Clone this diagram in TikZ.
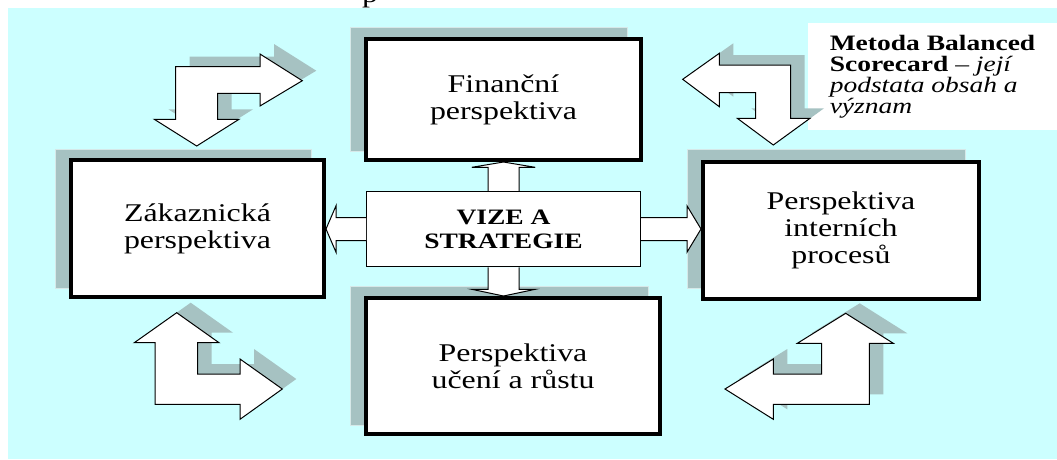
\documentclass[tikz,border=0pt]{standalone}
\usepackage{fontspec}
\setmainfont{Liberation Serif}[FakeStretch=1.25]
\usetikzlibrary{calc}
\definecolor{bgcyan}{RGB}{204,255,255}
\definecolor{shade}{RGB}{166,194,194}
\definecolor{shadeedge}{RGB}{214,232,232}
\tikzset{
  persp/.style={draw=black, line width=4pt, fill=white, align=center, inner sep=0pt,
    font=\fontsize{25.5}{27}\selectfont},
  vizebox/.style={draw=black, line width=1pt, fill=white, align=center, inner sep=0pt,
    font=\fontsize{22}{24}\selectfont\bfseries},
  boxshadow/.style={fill=shade, draw=shadeedge, line width=1pt},
  barrow/.style={draw=black, line width=1pt, fill=white, line join=miter},
  arrowshadow/.style={fill=shade, shift={(14,-10)}},
  % bent double arrows in the four corners
  cornerTL/.style={insert path={(302.3,80.7) -- (260,106) -- (260,93.3) -- (217.7,93.3)
    -- (217.7,119.3) -- (239,119.3) -- (196.7,146) -- (154.3,119.3) -- (175.7,119.3)
    -- (175.7,66.7) -- (260,66.7) -- (260,54) -- cycle}},
  cornerTR/.style={insert path={(682.7,79.3) -- (719.3,53.3) -- (719.3,65) -- (790.7,65)
    -- (790.7,118.3) -- (810,118.3) -- (773.3,145) -- (737.3,118.3) -- (755.7,118.3)
    -- (755.7,92.7) -- (719.3,92.7) -- (719.3,106.7) -- cycle}},
  cornerBL/.style={insert path={(176.7,312.7) -- (219,342.7) -- (197.7,342.7) -- (197.7,374)
    -- (240,374) -- (240,359) -- (282.3,389) -- (240,419.3) -- (240,404.3) -- (155,404.3)
    -- (155,342.7) -- (134.3,342.7) -- cycle}},
  cornerBR/.style={insert path={(845.7,313.3) -- (893.3,343.3) -- (869.3,343.3) -- (869.3,404.3)
    -- (773.3,404.3) -- (773.3,419.3) -- (725,389) -- (773.3,359) -- (773.3,374)
    -- (821.7,374) -- (821.7,343.3) -- (797.3,343.3) -- cycle}},
}
\begin{document}
\begin{tikzpicture}[x=1pt,y=-1pt]
  \useasboundingbox (0,0) rectangle (1057,459);
  \fill[white] (0,0) rectangle (1057,459);
  \fill[bgcyan] (8,8) rectangle (1057,459);

  % heading line running in from above
  \node[font=\fontsize{25.5}{27}\selectfont, anchor=base, inner sep=0pt] (cut) at (370,2) {p};

  % title note
  \node[fill=white, inner sep=0pt, minimum width=249pt, minimum height=107pt, align=left,
        font=\fontsize{22}{21}\selectfont] (note) at (932.5,76.5)
    {\textbf{Metoda Balanced}\\\textbf{Scorecard} \textit{– její}\\\textit{podstata obsah a}\\\textit{význam}};

  % shadows of the perspective boxes
  \draw[boxshadow] (350.5,27.5) rectangle (627.5,151.5);
  \draw[boxshadow] (55.5,149.5) rectangle (311.5,288.5);
  \draw[boxshadow] (687.5,149.5) rectangle (965.5,288.5);
  \draw[boxshadow] (350.5,286.5) rectangle (648.5,425.5);

  % corner arrows with their shadows
  \fill[arrowshadow, cornerTL];
  \fill[arrowshadow, cornerTR];
  \fill[arrowshadow, cornerBL];
  \fill[arrowshadow, cornerBR];
  \draw[barrow, cornerTL];
  \draw[barrow, cornerTR];
  \draw[barrow, cornerBL];
  \draw[barrow, cornerBR];

  % perspective boxes
  \node[persp, minimum width=275pt, minimum height=121pt] (fin) at (503.5,99.5)
    {Finanční\\perspektiva};
  \node[persp, minimum width=253pt, minimum height=137pt] (zak) at (197.5,228.5)
    {Zákaznická\\perspektiva};
  \node[persp, minimum width=276pt, minimum height=137pt] (int) at (841,230)
    {Perspektiva\\interních\\procesů};
  \node[persp, minimum width=294pt, minimum height=136pt] (uc) at (513,366)
    {Perspektiva\\učení a růstu};

  % centre
  \node[vizebox, minimum width=274pt, minimum height=75.5pt] (vize) at (503.5,229)
    {VIZE A\\STRATEGIE};

  % block arrows from the centre
  \draw[barrow] ($(vize.north)+(-15.5,0)$) -- ($(vize.north |- fin.south)+(-15.5,5.3)$)
    -- ($(vize.north |- fin.south)+(-31.7,5.3)$) -- (vize.north |- fin.south)
    -- ($(vize.north |- fin.south)+(31.7,5.3)$) -- ($(vize.north |- fin.south)+(15.5,5.3)$)
    -- ($(vize.north)+(15.5,0)$);
  \draw[barrow] ($(vize.south)+(-15.5,0)$) -- ($(vize.south |- uc.north)+(-15.5,-6.7)$)
    -- ($(vize.south |- uc.north)+(-31.7,-6.7)$) -- (vize.south |- uc.north)
    -- ($(vize.south |- uc.north)+(31.7,-6.7)$) -- ($(vize.south |- uc.north)+(15.5,-6.7)$)
    -- ($(vize.south)+(15.5,0)$);
  \draw[barrow] ($(vize.west)+(0,-11.5)$) -- ($(vize.west -| zak.east)+(10,-11.5)$)
    -- ($(vize.west -| zak.east)+(10,-23.2)$) -- (vize.west -| zak.east)
    -- ($(vize.west -| zak.east)+(10,23.2)$) -- ($(vize.west -| zak.east)+(10,11.5)$)
    -- ($(vize.west)+(0,11.5)$);
  \draw[barrow] ($(vize.east)+(0,-11.5)$) -- ($(vize.east -| int.west)+(-14,-11.5)$)
    -- ($(vize.east -| int.west)+(-14,-23.2)$) -- (vize.east -| int.west)
    -- ($(vize.east -| int.west)+(-14,23.2)$) -- ($(vize.east -| int.west)+(-14,11.5)$)
    -- ($(vize.east)+(0,11.5)$);
\end{tikzpicture}
\end{document}
